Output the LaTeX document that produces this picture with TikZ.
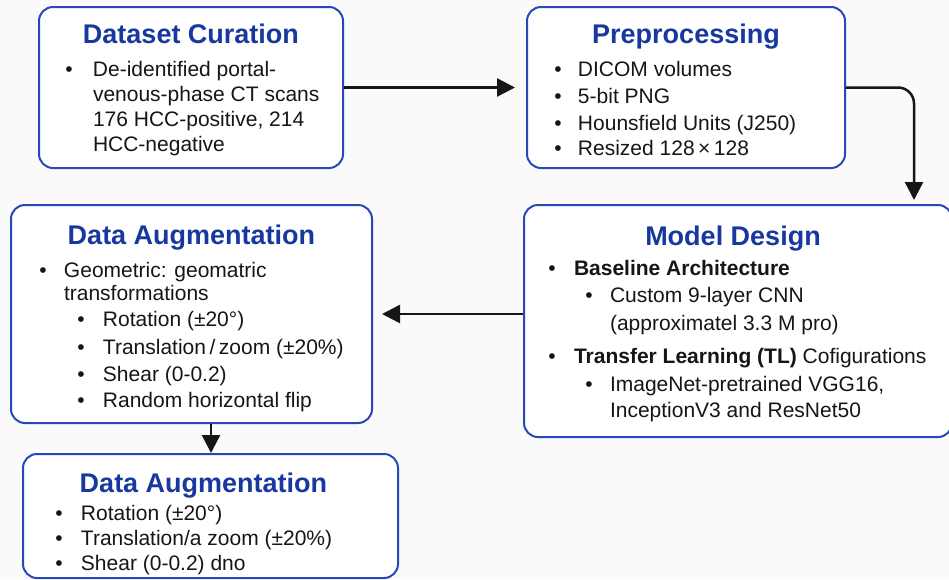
\documentclass[tikz,border=0pt]{standalone}
\usepackage{fontspec}
\setmainfont{Liberation Sans}
\usetikzlibrary{arrows.meta}

\definecolor{boxblue}{RGB}{40,72,186}
\definecolor{headblue}{RGB}{24,56,160}
\definecolor{inkgray}{RGB}{22,22,22}
\definecolor{paper}{RGB}{250,250,250}

% text of one card: width, height, lines
\newcommand{\headfont}{\fontsize{27}{0}\selectfont\bfseries\color{headblue}}
\newcommand{\card}[3]{\parbox[c][#2pt][t]{#1pt}{\fontsize{21}{0}\selectfont
  \lineskip=0pt\lineskiplimit=-\maxdimen\parindent=0pt\color{inkgray}#3}}
\newcommand{\head}[3][0]{\vspace*{\dimexpr#2pt-20pt\relax}\makebox[\linewidth]{\rule{0pt}{20pt}\kern#1pt\headfont #3\kern-#1pt}\par}
\newcommand{\itm}[4]{\vspace{#1pt}\leavevmode\rlap{\hspace*{\dimexpr#2pt-3.7pt\relax}\textbullet}\hspace*{#3pt}#4\par}
\newcommand{\cnt}[3]{\vspace{#1pt}\leavevmode\hspace*{#2pt}#3\par}

\begin{document}
\begin{tikzpicture}
  [x=1pt,y=-1pt,
   box/.style={draw=boxblue,line width=2pt,fill=white,rounded corners=14pt,inner sep=0pt,anchor=north west},
   flow/.style={-{Triangle[length=18pt,width=18pt]},line width=2.5pt,draw=inkgray}]

  \fill[paper] (0,0) rectangle (949,579);
  \useasboundingbox (0,0) rectangle (949,579);

  % the five cards, placed by their top left corner
  \node[box] (cur) at (38,6) {\card{304}{161}{
    \head{36.5}{Dataset Curation}
    \itm{33}{30}{54}{De-identified portal-}
    \cnt{25}{54}{venous-phase CT scans}
    \cnt{25}{54}{176 HCC-positive, 214}
    \cnt{25}{54}{HCC-negative}}};

  \node[box] (pre) at (526,6) {\card{318}{161}{
    \head{36.5}{Preprocessing}
    \itm{33}{31}{51}{DICOM volumes}
    \itm{26.5}{31}{51}{5-bit PNG}
    \itm{27}{31}{51}{Hounsfield Units (J250)}
    \itm{25}{31}{51}{Resized 128\,×\,128}}};

  \node[box] (mod) at (523,204) {\card{428}{232}{
    \head[-5]{40.5}{Model Design}
    \itm{30}{28}{50}{\textbf{Baseline Architecture}}
    \itm{27}{65}{86}{Custom 9-layer CNN}
    \cnt{28}{86}{(approximatel 3.3 M pro)}
    \itm{33}{28}{50}{\textbf{Transfer Learning (TL)} Cofigurations}
    \itm{28}{65}{86}{ImageNet-pretrained VGG16,}
    \cnt{26}{86}{InceptionV3 and ResNet50}}};

  \node[box] (aug) at (10,204) {\card{361}{218}{
    \head{39.5}{Data Augmentation}
    \itm{33}{32}{53}{Geometric: geomatric}
    \cnt{22.5}{53}{transformations}
    \itm{26.5}{70}{92}{Rotation (±20°)}
    \itm{27.5}{70}{92}{Translation\,/\,zoom (±20\%)}
    \itm{27.5}{70}{92}{Shear (0-0.2)}
    \itm{26}{70}{92}{Random horizontal flip}}};

  \node[box] (aug2) at (22,453) {\card{375}{124}{
    \head[-7]{38.5}{Data Augmentation}
    \itm{28}{36}{58}{Rotation (±20°)}
    \itm{25}{36}{58}{Translation/a zoom (±20\%)}
    \itm{25}{36}{58}{Shear (0-0.2) dno}}};

  % connectors
  \draw[flow,shorten >=11pt] (cur.east) -- (pre.west);
  \draw[flow,rounded corners=16pt,shorten >=4pt] (pre.east) -| ([xshift=-39pt]mod.north east);
  \draw[flow,shorten >=9pt] (aug.east -| mod.west) -- (aug.east);
  \draw[flow] ([xshift=19.5pt]aug.south) -- ([xshift=19.5pt]aug.south |- aug2.north);

\end{tikzpicture}
\end{document}
